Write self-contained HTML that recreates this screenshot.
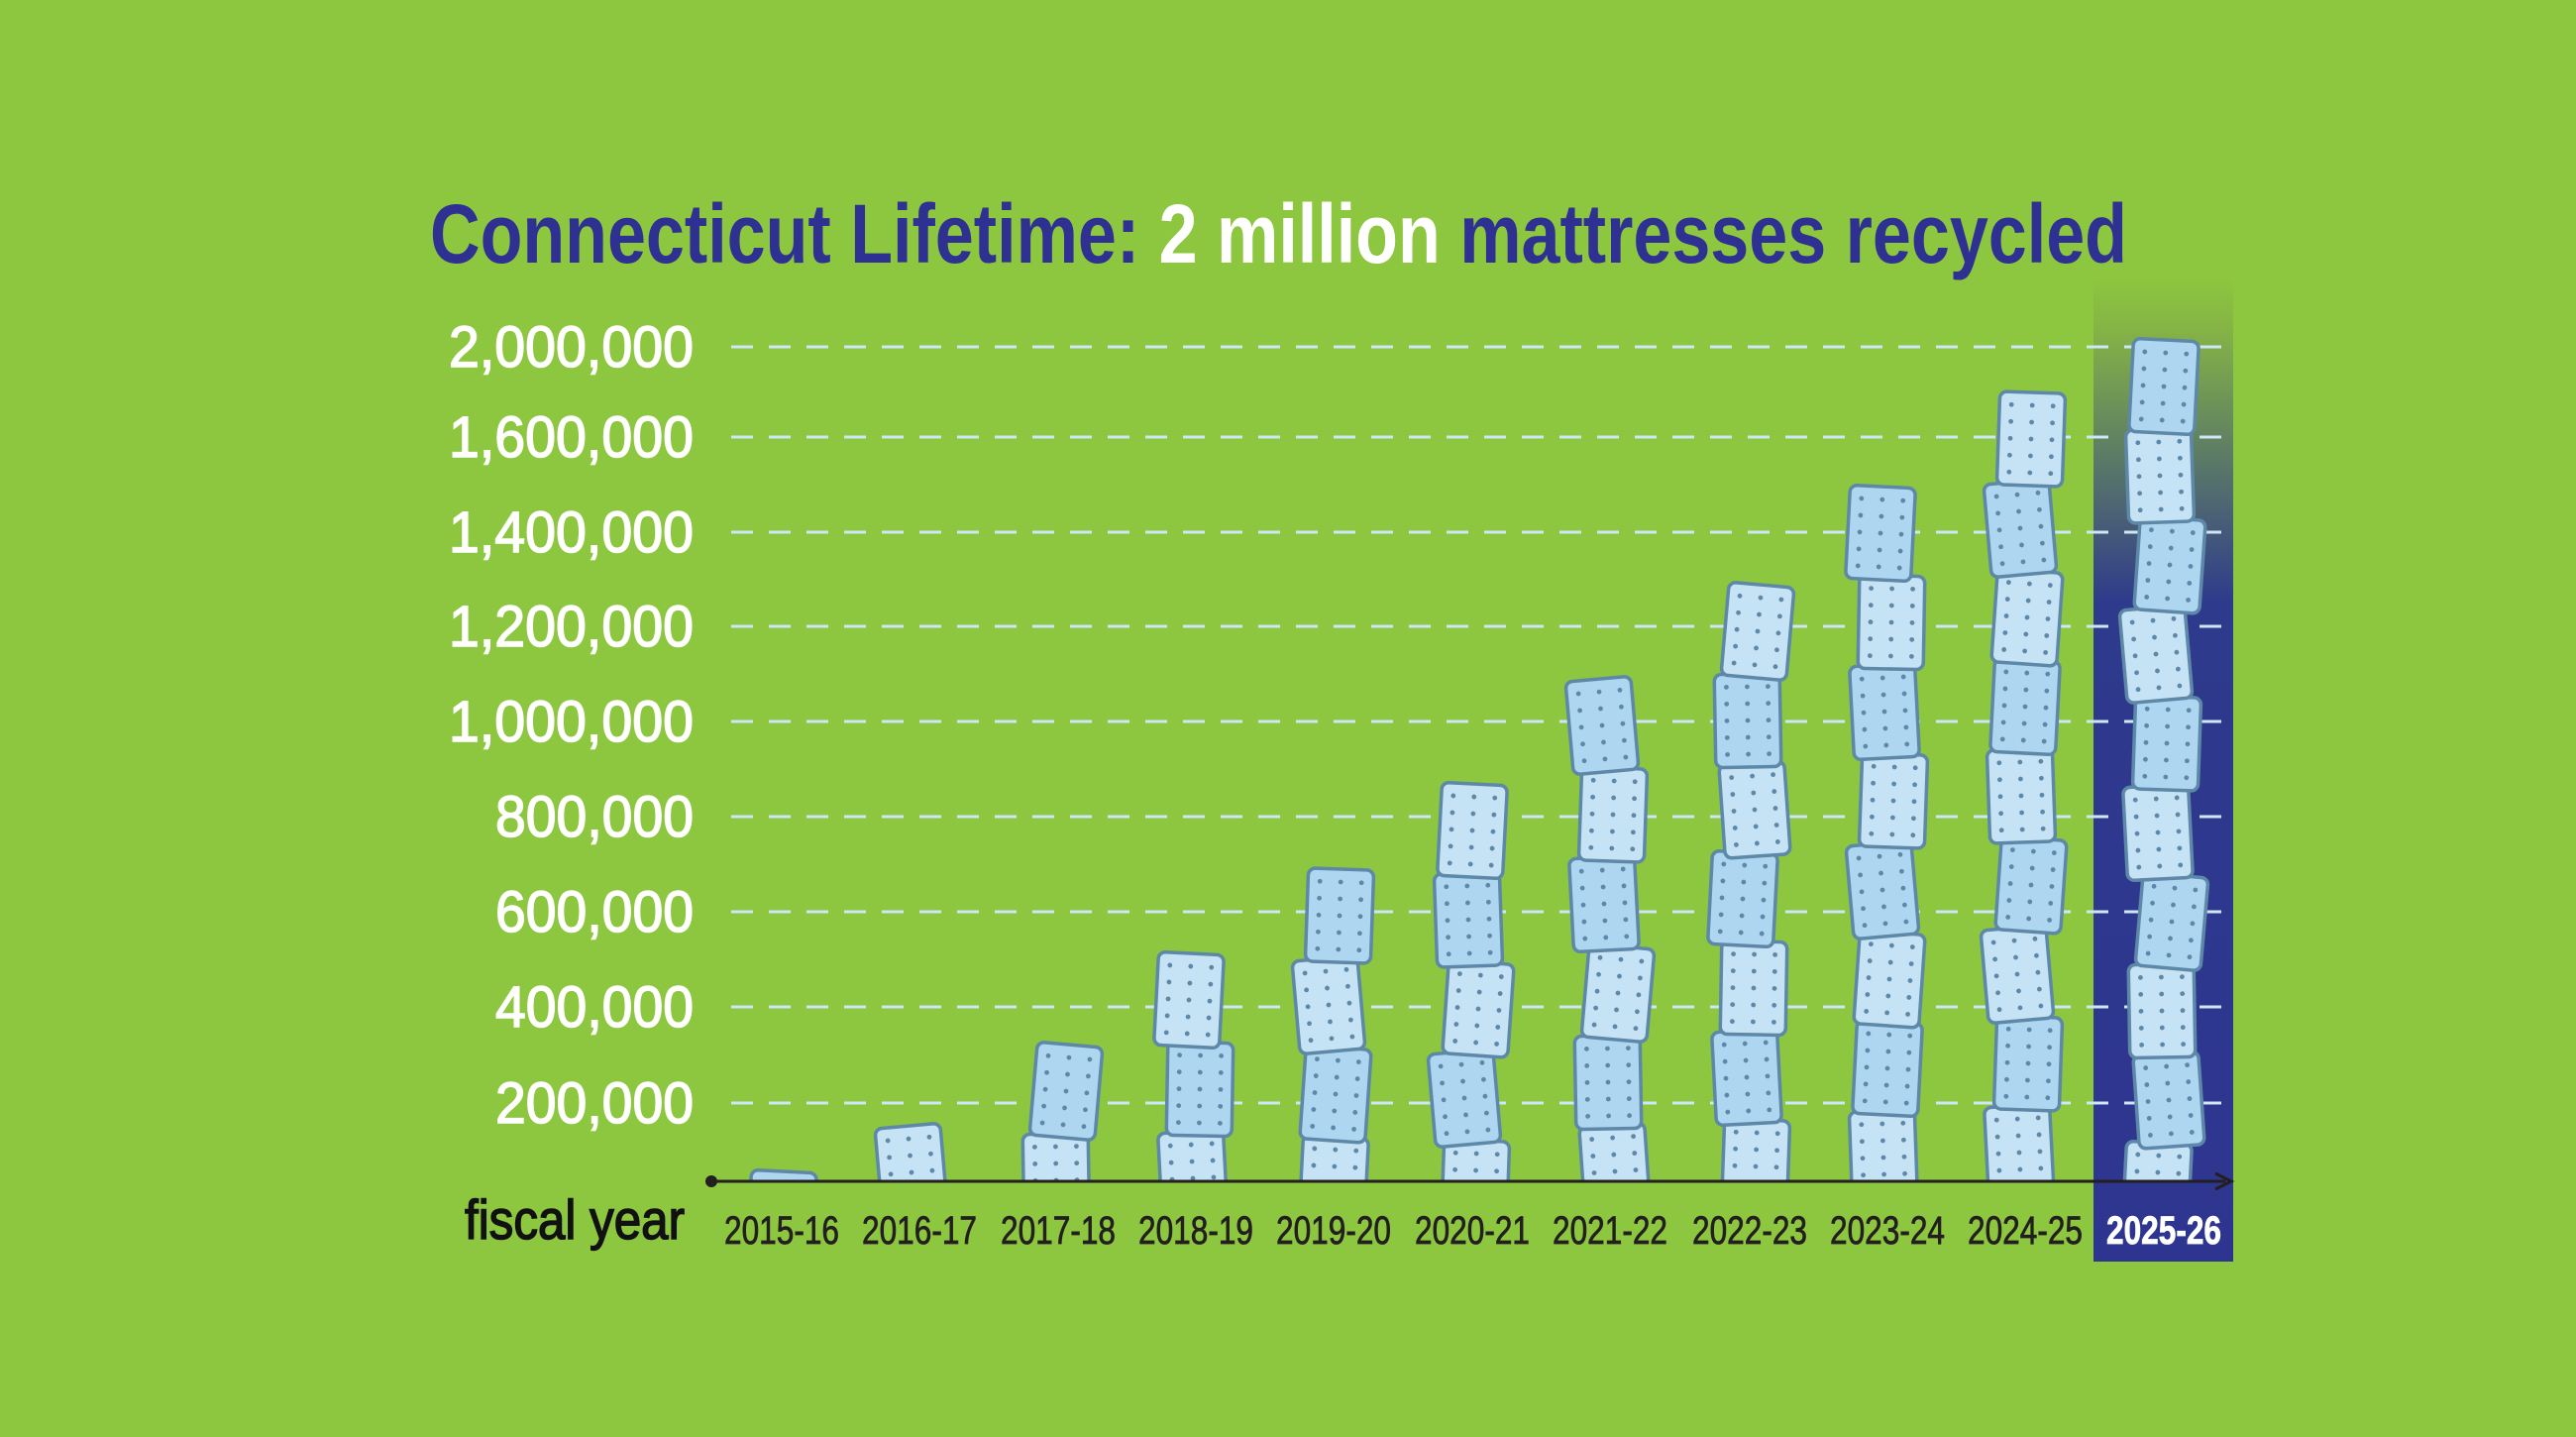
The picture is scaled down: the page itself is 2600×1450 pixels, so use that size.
<!DOCTYPE html>
<html><head><meta charset="utf-8"><style>
html,body{margin:0;padding:0;background:#8dc63f;}
svg{display:block;}
text{font-family:"Liberation Sans Narrow","Liberation Sans",sans-serif;}
</style></head><body>
<svg id="s" width="2600" height="1450" viewBox="0 0 2600 1450" xmlns="http://www.w3.org/2000/svg">
<defs>
<linearGradient id="hg" x1="0" y1="0" x2="0" y2="1">
<stop offset="0" stop-color="#8dc63f"/>
<stop offset="0.05" stop-color="#85b445"/>
<stop offset="0.33" stop-color="#2e3a8c"/>
<stop offset="1" stop-color="#2e3590"/>
</linearGradient>
<clipPath id="cp"><rect x="0" y="0" width="2600" height="1192"/></clipPath>
</defs>
<rect width="2600" height="1450" fill="#8dc63f"/>
<rect x="2113" y="282" width="141" height="991" fill="url(#hg)"/>
<text x="434" y="265" font-size="84" font-weight="bold" fill="#2e3192" textLength="1713" lengthAdjust="spacingAndGlyphs">Connecticut Lifetime: <tspan fill="#ffffff">2 million</tspan> mattresses recycled</text>
<g stroke="#cfe6f5" stroke-width="3" stroke-dasharray="22,16">
<line x1="738" y1="350" x2="2250" y2="350"/>
<line x1="738" y1="441" x2="2250" y2="441"/>
<line x1="738" y1="537" x2="2250" y2="537"/>
<line x1="738" y1="632" x2="2250" y2="632"/>
<line x1="738" y1="728" x2="2250" y2="728"/>
<line x1="738" y1="824" x2="2250" y2="824"/>
<line x1="738" y1="920" x2="2250" y2="920"/>
<line x1="738" y1="1016" x2="2250" y2="1016"/>
<line x1="738" y1="1113" x2="2250" y2="1113"/>
</g>
<g fill="#ffffff" stroke="#ffffff" stroke-width="1.5" font-size="58" text-anchor="end">
<text x="700" y="370" textLength="247" lengthAdjust="spacingAndGlyphs">2,000,000</text>
<text x="700" y="461" textLength="247" lengthAdjust="spacingAndGlyphs">1,600,000</text>
<text x="700" y="557" textLength="247" lengthAdjust="spacingAndGlyphs">1,400,000</text>
<text x="700" y="652" textLength="247" lengthAdjust="spacingAndGlyphs">1,200,000</text>
<text x="700" y="748" textLength="247" lengthAdjust="spacingAndGlyphs">1,000,000</text>
<text x="700" y="844" textLength="200" lengthAdjust="spacingAndGlyphs">800,000</text>
<text x="700" y="940" textLength="200" lengthAdjust="spacingAndGlyphs">600,000</text>
<text x="700" y="1036" textLength="200" lengthAdjust="spacingAndGlyphs">400,000</text>
<text x="700" y="1133" textLength="200" lengthAdjust="spacingAndGlyphs">200,000</text>
</g>
<g id="stacks" clip-path="url(#cp)"></g>
<line x1="718" y1="1192" x2="2246" y2="1192" stroke="#231f20" stroke-width="3"/>
<circle cx="718" cy="1192" r="6" fill="#231f20"/>
<path d="M2236,1184 L2252,1192 L2236,1200" fill="none" stroke="#231f20" stroke-width="3"/>
<text x="469" y="1250" font-size="56" fill="#111" stroke="#111" stroke-width="1.5" textLength="222" lengthAdjust="spacingAndGlyphs">fiscal year</text>
<g font-size="40" fill="#231f20" stroke="#231f20" stroke-width="0.8" text-anchor="middle">
<text x="789" y="1255" textLength="116" lengthAdjust="spacingAndGlyphs">2015-16</text>
<text x="928" y="1255" textLength="116" lengthAdjust="spacingAndGlyphs">2016-17</text>
<text x="1068" y="1255" textLength="116" lengthAdjust="spacingAndGlyphs">2017-18</text>
<text x="1207" y="1255" textLength="116" lengthAdjust="spacingAndGlyphs">2018-19</text>
<text x="1346" y="1255" textLength="116" lengthAdjust="spacingAndGlyphs">2019-20</text>
<text x="1486" y="1255" textLength="116" lengthAdjust="spacingAndGlyphs">2020-21</text>
<text x="1625" y="1255" textLength="116" lengthAdjust="spacingAndGlyphs">2021-22</text>
<text x="1766" y="1255" textLength="116" lengthAdjust="spacingAndGlyphs">2022-23</text>
<text x="1905" y="1255" textLength="116" lengthAdjust="spacingAndGlyphs">2023-24</text>
<text x="2044" y="1255" textLength="116" lengthAdjust="spacingAndGlyphs">2024-25</text>
<text x="2184" y="1255" textLength="116" lengthAdjust="spacingAndGlyphs" fill="#ffffff" stroke="#ffffff" font-weight="bold">2025-26</text>
</g>
</svg>
<script>
(function(){
var NS="http://www.w3.org/2000/svg";
var g=document.getElementById("stacks");
var cols=[[789,1182],[928,1136],[1068,1054],[1207,962],[1346,877],[1486,791],[1625,685],[1766,590],[1905,491],[2044,396],[2184,343]];
var rots=[3,-2,4,-5,2,-3,5,-1,-4,3,1,-3,2,-5,4];
var offs=[0,-4,6,-8,3,-6,8,-2,5,-7,4,-3,6,-5,2];
var W=66,H=94,STEP=90;
cols.forEach(function(c,ci){
  var cx=c[0],top=c[1];
  var items=[];
  var y=top;var i=0;
  while(y<1200){items.push([y,i]);y+=STEP;i++;}
  for(var k=items.length-1;k>=0;k--){
    var yy=items[k][0];var j=(ci*3+k)%rots.length;
    var r=rots[j],ox=offs[j];
    var gg=document.createElementNS(NS,"g");
    var mx=cx+ox,my=yy+H/2;
    gg.setAttribute("transform","translate("+mx+","+my+") rotate("+r+")");
    var rect=document.createElementNS(NS,"rect");
    rect.setAttribute("x",-W/2);rect.setAttribute("y",-H/2);
    rect.setAttribute("width",W);rect.setAttribute("height",H);
    rect.setAttribute("rx",7);
    rect.setAttribute("fill",(k+ci)%2?"#c6e2f5":"#aed6f1");
    rect.setAttribute("stroke","#5d88a8");rect.setAttribute("stroke-width",3.5);
    gg.appendChild(rect);
    for(var a=0;a<5;a++)for(var b=0;b<3;b++){
      var d=document.createElementNS(NS,"circle");
      d.setAttribute("cx",-21+b*21);d.setAttribute("cy",-34+a*17);
      d.setAttribute("r",2.4);d.setAttribute("fill","#5d88a8");
      gg.appendChild(d);
    }
    g.appendChild(gg);
  }
});
})();
</script>
</body></html>
